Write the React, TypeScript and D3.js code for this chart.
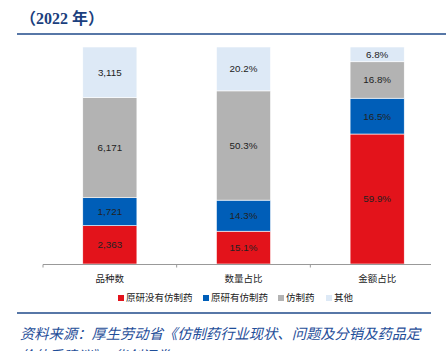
import React from "react";
import * as d3 from "d3";

const categories = ["品种数", "数量占比", "金额占比"];
const seriesNames = ["原研没有仿制药", "原研有仿制药", "仿制药", "其他"];
const seriesColors = ["#E3131B", "#005EB8", "#B3B3B3", "#DDE9F6"];
// values per category, ordered as seriesNames (bottom to top)
const originalNoGeneric = [2363, 15.1, 59.9];
const originalWithGeneric = [1721, 14.3, 16.5];
const generic = [6171, 50.3, 16.8];
const others = [3115, 20.2, 6.8];
const labelFormats = ["count", "pct", "pct"];

const W = 446;
const H = 351;

export default function App() {
  const series = [originalNoGeneric, originalWithGeneric, generic, others];
  const x = d3.scaleBand().domain(categories).range([43, 444]).paddingInner(0.595).paddingOuter(0.2975);
  const y = d3.scaleLinear().domain([0, 100]).range([264, 47]);
  const fmt = d3.format(",");

  const bars: React.ReactNode[] = [];
  categories.forEach((c, ci) => {
    const total = series.reduce((s, arr) => s + arr[ci], 0);
    let acc = 0;
    series.forEach((arr, si) => {
      const v = (arr[ci] / total) * 100;
      const y0 = y(acc);
      const y1 = y(acc + v);
      acc += v;
      const label = labelFormats[ci] === "count" ? fmt(arr[ci]) : arr[ci].toFixed(1) + "%";
      bars.push(
        <g key={c + si}>
          <rect x={x(c)} y={y1} width={x.bandwidth()} height={y0 - y1} fill={seriesColors[si]} stroke="#ffffff" strokeWidth={0.6} />
          <text x={(x(c) as number) + x.bandwidth() / 2} y={(y0 + y1) / 2} dy="0.35em" textAnchor="middle" fontSize={9.8} fill="#222">
            {label}
          </text>
        </g>
      );
    });
  });

  const tickXs = [43, ...categories.slice(1).map((c) => (x(c) as number) - (x.step() * x.paddingInner()) / 2)];

  const legendX = [118, 203, 278, 326];

  return (
    <svg width={W} height={H} style={{ position: "absolute", left: 0, top: 0, fontFamily: "'Liberation Sans', 'Noto Sans CJK SC', sans-serif" }}>
      <rect width={W} height={H} fill="#fff" />
      <text x={20} y={18} dy="0.35em" fontSize={16} fontWeight="bold" fill="#1B3F7E" fontFamily="'Liberation Serif', 'Noto Sans CJK SC', serif">
        （2022 年）
      </text>
      <line x1={17} x2={446} y1={34} y2={34} stroke="#1F4A8A" strokeWidth={1.6} />
      {bars}
      <line x1={43} x2={431} y1={264.5} y2={264.5} stroke="#999" strokeWidth={1.2} />
      {tickXs.map((t, i) => (
        <line key={i} x1={t} x2={t} y1={264.5} y2={267.5} stroke="#999" strokeWidth={1} />
      ))}
      {categories.map((c) => (
        <text key={c} x={(x(c) as number) + x.bandwidth() / 2} y={279} dy="0.35em" textAnchor="middle" fontSize={9.5} fill="#222">
          {c}
        </text>
      ))}
      {seriesNames.map((n, i) => (
        <g key={n}>
          <rect x={legendX[i]} y={295} width={6} height={6} fill={seriesColors[i]} />
          <text x={legendX[i] + 8} y={298} dy="0.35em" fontSize={9.5} fill="#222">
            {n}
          </text>
        </g>
      ))}
      <line x1={17} x2={431} y1={313} y2={313} stroke="#1F4A8A" strokeWidth={1.6} />
      <text x={20} y={339} fontSize={14.3} fontStyle="italic" fill="#1F4E99" fontFamily="'Noto Sans CJK SC', sans-serif">
        资料来源：厚生劳动省《仿制药行业现状、问题及分销及药品定
      </text>
      <text x={20} y={361} fontSize={14.3} fontStyle="italic" fill="#1F4E99" fontFamily="'Noto Sans CJK SC', sans-serif">
        价体系建议》，华创证券
      </text>
    </svg>
  );
}
